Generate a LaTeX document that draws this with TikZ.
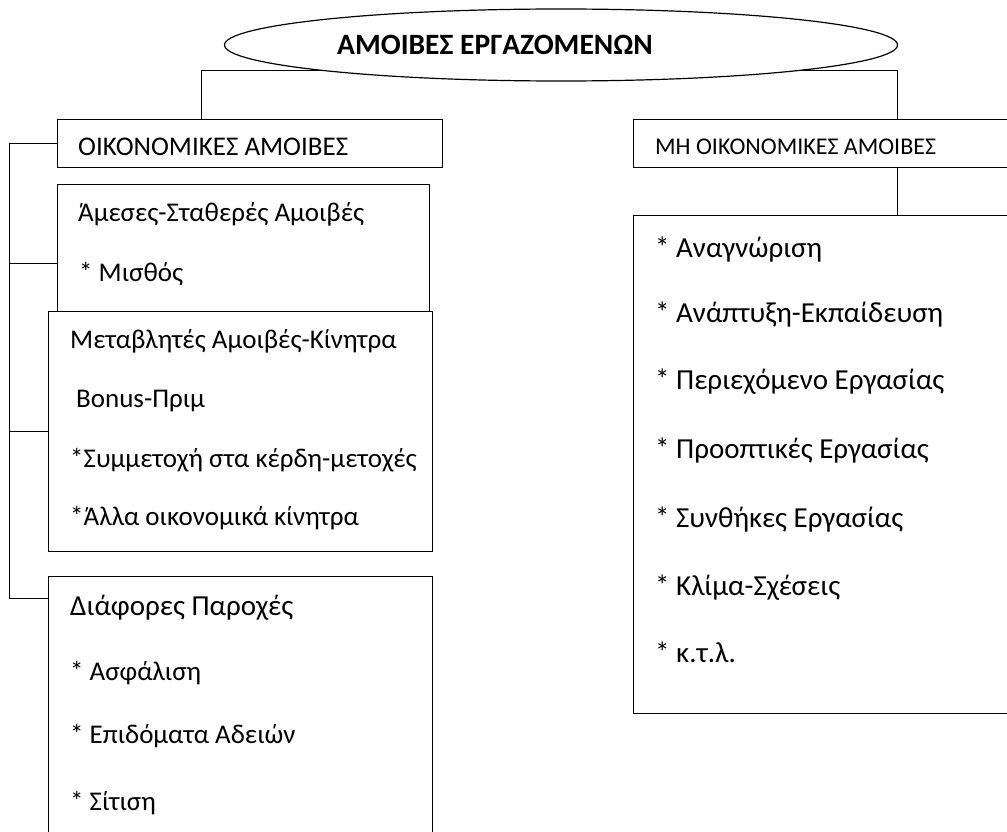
\documentclass[tikz,border=0pt]{standalone}
\usepackage{fontspec}
\setmainfont{Carlito}
\usetikzlibrary{shapes.geometric,backgrounds}

\begin{document}
\begin{tikzpicture}[x=1pt,y=-1pt,
    box/.style={draw=black, line width=1.2pt, fill=white, anchor=north west, inner sep=0pt},
    txt/.style={anchor=base west, inner sep=0pt, font=\fontsize{27}{31}\selectfont},
    big/.style={txt, font=\fontsize{29}{33}\selectfont},
    link/.style={draw=black, line width=1pt}]
    \useasboundingbox (0,0) rectangle (1007,832);
    \clip (0,0) rectangle (1007,832);

    %% title
    \node[ellipse, draw, line width=1.2pt, fill=white, minimum width=673, minimum height=72, inner sep=0pt] (title) at (561,45) {};
    \node[anchor=base, inner sep=0pt, font=\bfseries\fontsize{29.5}{33}\selectfont] (titletxt) at (495,55) {ΑΜΟΙΒΕΣ ΕΡΓΑΖΟΜΕΝΩΝ};

    %% left side
    \node[box, minimum width=385, minimum height=48] (fin) at (57,119) {};
    \node[txt] (fintxt) at (78,156) {ΟΙΚΟΝΟΜΙΚΕΣ ΑΜΟΙΒΕΣ};

    %fixed
    \node[box, minimum width=372, minimum height=127] (fix) at (57,184) {};
    \node[txt] (fix1) at (78,222) {Άμεσες-Σταθερές Αμοιβές};
    \node[txt] (fix2) at (79,281) {* Μισθός};

    %variable
    \node[box, minimum width=384, minimum height=240] (var) at (48,311) {};
    \node[txt] (var1) at (70,348) {Μεταβλητές Αμοιβές-Κίνητρα};
    \node[txt] (var2) at (76,407) {Bonus-Πριμ};
    \node[txt] (var3) at (70,467) {*Συμμετοχή στα κέρδη-μετοχές};
    \node[txt] (var4) at (70,525) {*Άλλα οικονομικά κίνητρα};

    %benefits
    \node[box, minimum width=384, minimum height=280] (ben) at (48,576) {};
    \node[big] (ben1) at (70,615) {Διάφορες Παροχές};
    \node[txt] (ben2) at (70,680) {* Ασφάλιση};
    \node[txt] (ben3) at (70,743) {* Επιδόματα Αδειών};
    \node[txt] (ben4) at (70,810) {* Σίτιση};

    %% right side
    \node[box, minimum width=400, minimum height=48] (nfin) at (633,119) {};
    \node[txt, font=\fontsize{24}{28}\selectfont] (nfintxt) at (655,154) {ΜΗ ΟΙΚΟΝΟΜΙΚΕΣ ΑΜΟΙΒΕΣ};

    \node[box, minimum width=400, minimum height=498] (nlist) at (633,215) {};
    \node[big] (n1) at (655,257) {* Αναγνώριση};
    \node[big] (n2) at (655,322) {* Ανάπτυξη-Εκπαίδευση};
    \node[big] (n3) at (655,389) {* Περιεχόμενο Εργασίας};
    \node[big] (n4) at (655,458) {* Προοπτικές Εργασίας};
    \node[big] (n5) at (655,527) {* Συνθήκες Εργασίας};
    \node[big] (n6) at (655,595) {* Κλίμα-Σχέσεις};
    \node[big] (n7) at (655,662) {* κ.τ.λ.};

    %% lines
    \begin{pgfonlayer}{background}
        \coordinate (tl) at (201,71);
        \coordinate (tr) at (897,71);
        \draw[link] (fin.north -| tl) -- (tl) -- (tr) -- (nfin.north -| tr);
        \draw[link] (nfin.south -| tr) -- (nlist.north -| tr);

        \draw[link] (fin.west) -- (fin.west -| 9,0) coordinate (sp) -- (sp |- 0,598) coordinate (sq) -- (fin.west |- sq);
        \draw[link] (sp |- 0,263) -- (fin.west |- 0,263);
        \draw[link] (sp |- var.west) -- (fin.west |- var.west);
    \end{pgfonlayer}
\end{tikzpicture}
\end{document}
